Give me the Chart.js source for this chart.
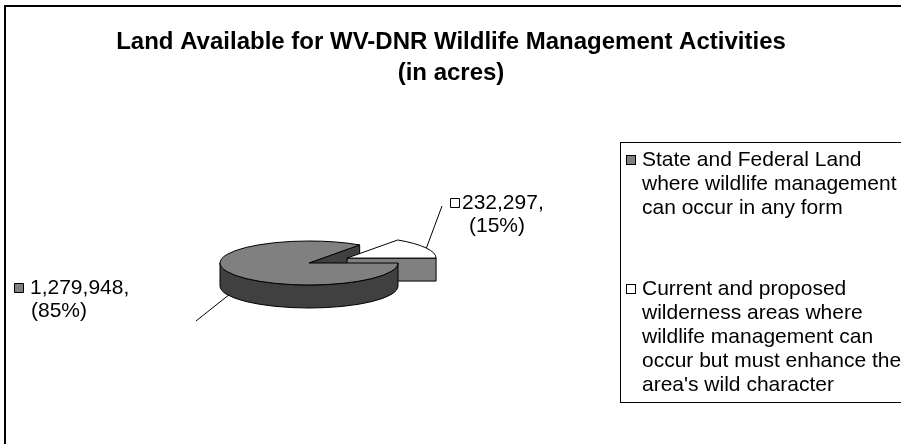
<!DOCTYPE html>
<html><head><meta charset="utf-8">
<script src="https://cdn.jsdelivr.net/npm/chart.js@4.4.1/dist/chart.umd.min.js"></script>
<style>html,body{margin:0;padding:0;background:#fff;}canvas{display:block;}</style>
</head><body>
<canvas id="c" width="901" height="444"></canvas>
<script>
// ---- data ----
const titleLines = ["Land Available for WV-DNR Wildlife Management Activities", "(in acres)"];
const categories = [
  "State and Federal Land where wildlife management can occur in any form",
  "Current and proposed wilderness areas where wildlife management can occur but must enhance the area's wild character"
];
const legendLines = [
  ["State and Federal Land", "where wildlife management", "can occur in any form"],
  ["Current and proposed", "wilderness areas where", "wildlife management can", "occur but must enhance the", "area's wild character"]
];
const acres = [1279948, 232297];
const valueLabels = ["1,279,948,", "232,297,"];
const percentLabels = ["(85%)", "(15%)"];

// ---- styles ----
const topColors = ["#808080", "#ffffff"];
const sideColors = ["#404040", "#808080"];
const FONT = "'Liberation Sans', Arial, sans-serif";

const pie3d = {
  id: 'pie3d',
  beforeDatasetsDraw(chart, args, o) {
    const ctx = chart.ctx;
    const els = chart.getDatasetMeta(0).data;
    const SQ = o.squish, D = o.depth;
    const info = els.map((el, i) => {
      const mid = (el.startAngle + el.endAngle) / 2;
      const ex = o.explode[i] || 0;
      return {el, dx: Math.cos(mid) * ex, dy: Math.sin(mid) * ex * SQ};
    });
    const P = (inf, a, down) => [inf.el.x + inf.dx + Math.cos(a) * inf.el.outerRadius,
      inf.el.y + inf.dy + Math.sin(a) * inf.el.outerRadius * SQ + (down ? D : 0)];
    ctx.save();
    ctx.lineWidth = 1; ctx.strokeStyle = '#000'; ctx.lineJoin = 'round';
    // 1. visible cut faces
    info.forEach((inf, i) => {
      const el = inf.el;
      const faces = [];
      if (Math.sin(el.startAngle - Math.PI / 2) > 0.01) faces.push(el.startAngle);
      if (Math.sin(el.endAngle + Math.PI / 2) > 0.01) faces.push(el.endAngle);
      faces.forEach(a => {
        const cx = el.x + inf.dx, cy = el.y + inf.dy;
        const t = P(inf, a, false), b = P(inf, a, true);
        ctx.beginPath();
        ctx.moveTo(cx, cy); ctx.lineTo(t[0], t[1]); ctx.lineTo(b[0], b[1]); ctx.lineTo(cx, cy + D);
        ctx.closePath();
        ctx.fillStyle = sideColors[i]; ctx.fill(); ctx.stroke();
      });
    });
    // 2. front rims
    info.forEach((inf, i) => {
      const el = inf.el, r = el.outerRadius;
      const cx = el.x + inf.dx, cy = el.y + inf.dy;
      for (let k = -1; k <= 2; k++) {
        const lo = Math.max(el.startAngle, k * 2 * Math.PI);
        const hi = Math.min(el.endAngle, k * 2 * Math.PI + Math.PI);
        if (hi - lo > 0.001) {
          ctx.beginPath();
          ctx.ellipse(cx, cy, r, r * SQ, 0, lo, hi, false);
          ctx.ellipse(cx, cy + D, r, r * SQ, 0, hi, lo, true);
          ctx.closePath();
          ctx.fillStyle = sideColors[i]; ctx.fill(); ctx.stroke();
        }
      }
    });
    // 3. tops (drawn by the arc elements, squished)
    info.forEach((inf, i) => {
      const el = inf.el;
      const saved = el.options;
      el.options = Object.assign({}, saved, {borderWidth: 0, offset: 0, spacing: 0});
      ctx.save();
      ctx.translate(inf.dx, inf.dy);
      ctx.translate(el.x, el.y); ctx.scale(1, SQ); ctx.translate(-el.x, -el.y);
      el.draw(ctx);
      ctx.restore();
      el.options = saved;
      const cx = el.x + inf.dx, cy = el.y + inf.dy;
      ctx.beginPath();
      ctx.moveTo(cx, cy);
      ctx.ellipse(cx, cy, el.outerRadius, el.outerRadius * SQ, 0, el.startAngle, el.endAngle, false);
      ctx.closePath();
      ctx.stroke();
    });
    // 4. data labels with leader lines
    ctx.textBaseline = 'middle';
    ctx.font = o.labelFont + 'px ' + FONT;
    info.forEach((inf, i) => {
      const L = o.labels[i];
      const s = P(inf, L.angle * Math.PI / 180, L.down);
      ctx.beginPath(); ctx.moveTo(s[0], s[1]); ctx.lineTo(L.lineEnd[0], L.lineEnd[1]); ctx.stroke();
      ctx.fillStyle = topColors[i];
      ctx.fillRect(L.box[0] + 0.5, L.box[1] + 0.5, 9, 9);
      ctx.strokeRect(L.box[0] + 0.5, L.box[1] + 0.5, 9, 9);
      ctx.fillStyle = '#000';
      ctx.textAlign = 'left';
      ctx.fillText(valueLabels[i], L.text[0], L.text[1]);
      ctx.textAlign = 'center';
      ctx.fillText(percentLabels[i], L.pct[0], L.pct[1]);
    });
    ctx.restore();
    return false;
  },
  afterDraw(chart, args, o) {
    const ctx = chart.ctx;
    ctx.save();
    // outer frame
    ctx.fillStyle = '#000';
    ctx.fillRect(4, 5, 2, 444);
    ctx.fillRect(4, 5, 901, 2);
    // title
    ctx.textAlign = 'center'; ctx.textBaseline = 'middle';
    ctx.font = 'bold ' + o.titleFont + 'px ' + FONT;
    ctx.fillText(titleLines[0], o.titleX, o.titleY[0]);
    ctx.fillText(titleLines[1], o.titleX, o.titleY[1]);
    // legend
    const lg = o.legend;
    ctx.lineWidth = 1; ctx.strokeStyle = '#000';
    ctx.strokeRect(lg.x + 0.5, lg.y + 0.5, 400, lg.h);
    ctx.font = o.legendFont + 'px ' + FONT;
    ctx.textAlign = 'left';
    legendLines.forEach((lines, i) => {
      const y0 = lg.itemY[i];
      ctx.fillStyle = topColors[i];
      ctx.fillRect(lg.x + 6.5, y0 - 4.5, 9, 9);
      ctx.strokeRect(lg.x + 6.5, y0 - 4.5, 9, 9);
      ctx.fillStyle = '#000';
      lines.forEach((t, j) => ctx.fillText(t, lg.x + 22, y0 + j * lg.lh));
    });
    ctx.restore();
  }
};

new Chart(document.getElementById('c'), {
  type: 'pie',
  data: {
    labels: categories,
    datasets: [{ data: acres, backgroundColor: topColors, borderWidth: 0, radius: 89 }]
  },
  options: {
    responsive: false,
    animation: false,
    rotation: 90,
    layout: { padding: { left: 159, right: 442, top: 163, bottom: 81 } },
    plugins: {
      legend: { display: false },
      title: { display: false },
      tooltip: { enabled: false },
      pie3d: {
        squish: 22 / 89, depth: 23, explode: [0, 43],
        labelFont: 21, legendFont: 21, titleFont: 24,
        titleX: 451, titleY: [42, 73],
        labels: [
          { angle: 155, down: true, lineEnd: [196, 321], box: [14, 283], text: [30, 288], pct: [59, 311] },
          { angle: -27, down: false, lineEnd: [442, 206], box: [450, 198], text: [462, 203], pct: [497, 226] }
        ],
        legend: { x: 620, y: 142, h: 260, itemY: [160, 289], lh: 24 }
      }
    }
  },
  plugins: [pie3d]
});
</script>
</body></html>
